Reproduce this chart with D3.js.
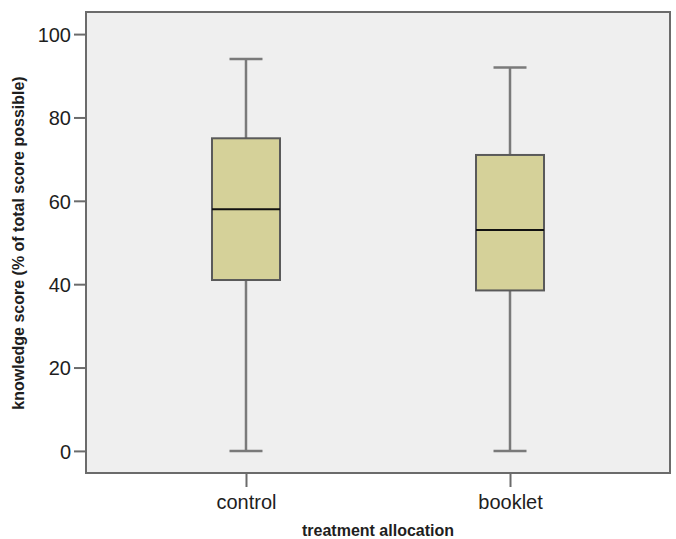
<!DOCTYPE html>
<html lang="en">
<head>
<meta charset="utf-8"/>
<title>Knowledge score boxplot</title>
<script src="https://d3js.org/d3.v7.min.js"></script>
<style>
  body { margin: 0; background: #fff; }
  svg text { font-family: Arial, "Liberation Sans", sans-serif; fill: #1e1e1e; }
  .axis .tick line { stroke: #6b6b6b; stroke-width: 2px; }
</style>
</head>
<body>
<div id="chart"></div>
<script>
// data
var groups = ["control", "booklet"];
var mins = [0, 0];
var q1s = [41, 38.5];
var medians = [58, 53];
var q3s = [75, 71];
var maxs = [94, 92];
var yTicks = [0, 20, 40, 60, 80, 100];

var width = 676, height = 539;
var m = {top: 12, right: 6, bottom: 66, left: 86};

var svg = d3.select("#chart").append("svg")
  .attr("width", width)
  .attr("height", height);

var x = d3.scalePoint()
  .domain(groups)
  .range([m.left, width - m.right])
  .padding(0.606);

var y = d3.scaleLinear()
  .domain([-5.3, 105.3])
  .range([height - m.bottom, m.top]);

// plot background
svg.append("rect")
  .attr("x", m.left)
  .attr("y", m.top)
  .attr("width", width - m.right - m.left)
  .attr("height", height - m.bottom - m.top)
  .attr("fill", "#efefef")
  .attr("stroke", "#6b6b6b")
  .attr("stroke-width", 2);

// axes
svg.append("g")
  .attr("class", "axis")
  .attr("transform", "translate(" + m.left + ",0)")
  .call(d3.axisLeft(y).tickValues(yTicks).tickSize(12).tickPadding(3).tickSizeOuter(0))
  .call(function(g) { g.select(".domain").remove(); })
  .selectAll("text")
    .style("font-size", "20px")
    .attr("dy", "0.36em");

svg.append("g")
  .attr("class", "axis")
  .attr("transform", "translate(0," + (height - m.bottom) + ")")
  .call(d3.axisBottom(x).tickSize(14).tickPadding(8).tickSizeOuter(0))
  .call(function(g) { g.select(".domain").remove(); })
  .selectAll("text")
    .style("font-size", "20px");

var data = groups.map(function(g, i) {
  return {name: g, min: mins[i], q1: q1s[i], med: medians[i], q3: q3s[i], max: maxs[i]};
});

var boxW = 68, capW = 33;
var box = svg.append("g").selectAll("g")
  .data(data)
  .enter().append("g");

// whiskers
box.append("line")
  .attr("x1", function(d) { return x(d.name); })
  .attr("x2", function(d) { return x(d.name); })
  .attr("y1", function(d) { return y(d.max); })
  .attr("y2", function(d) { return y(d.q3); })
  .attr("stroke", "#7a7a7a").attr("stroke-width", 2.5);
box.append("line")
  .attr("x1", function(d) { return x(d.name); })
  .attr("x2", function(d) { return x(d.name); })
  .attr("y1", function(d) { return y(d.q1); })
  .attr("y2", function(d) { return y(d.min); })
  .attr("stroke", "#7a7a7a").attr("stroke-width", 2.5);
box.append("line")
  .attr("x1", function(d) { return x(d.name) - capW / 2; })
  .attr("x2", function(d) { return x(d.name) + capW / 2; })
  .attr("y1", function(d) { return y(d.max); })
  .attr("y2", function(d) { return y(d.max); })
  .attr("stroke", "#7a7a7a").attr("stroke-width", 2.5);
box.append("line")
  .attr("x1", function(d) { return x(d.name) - capW / 2; })
  .attr("x2", function(d) { return x(d.name) + capW / 2; })
  .attr("y1", function(d) { return y(d.min); })
  .attr("y2", function(d) { return y(d.min); })
  .attr("stroke", "#7a7a7a").attr("stroke-width", 2.5);

// boxes
box.append("rect")
  .attr("x", function(d) { return x(d.name) - boxW / 2; })
  .attr("y", function(d) { return y(d.q3); })
  .attr("width", boxW)
  .attr("height", function(d) { return y(d.q1) - y(d.q3); })
  .attr("fill", "#d5d199")
  .attr("stroke", "#5a5a5a")
  .attr("stroke-width", 2);

// medians
box.append("line")
  .attr("x1", function(d) { return x(d.name) - boxW / 2; })
  .attr("x2", function(d) { return x(d.name) + boxW / 2; })
  .attr("y1", function(d) { return y(d.med); })
  .attr("y2", function(d) { return y(d.med); })
  .attr("stroke", "#111").attr("stroke-width", 2);

// axis titles
svg.append("text")
  .attr("x", (m.left + width - m.right) / 2)
  .attr("y", 536)
  .attr("text-anchor", "middle")
  .style("font-size", "16px")
  .style("font-weight", "bold")
  .text("treatment allocation");

svg.append("text")
  .attr("transform", "translate(24," + 243 + ") rotate(-90)")
  .attr("text-anchor", "middle")
  .style("font-size", "16px")
  .style("font-weight", "bold")
  .text("knowledge score (% of total score possible)");
</script>
</body>
</html>
